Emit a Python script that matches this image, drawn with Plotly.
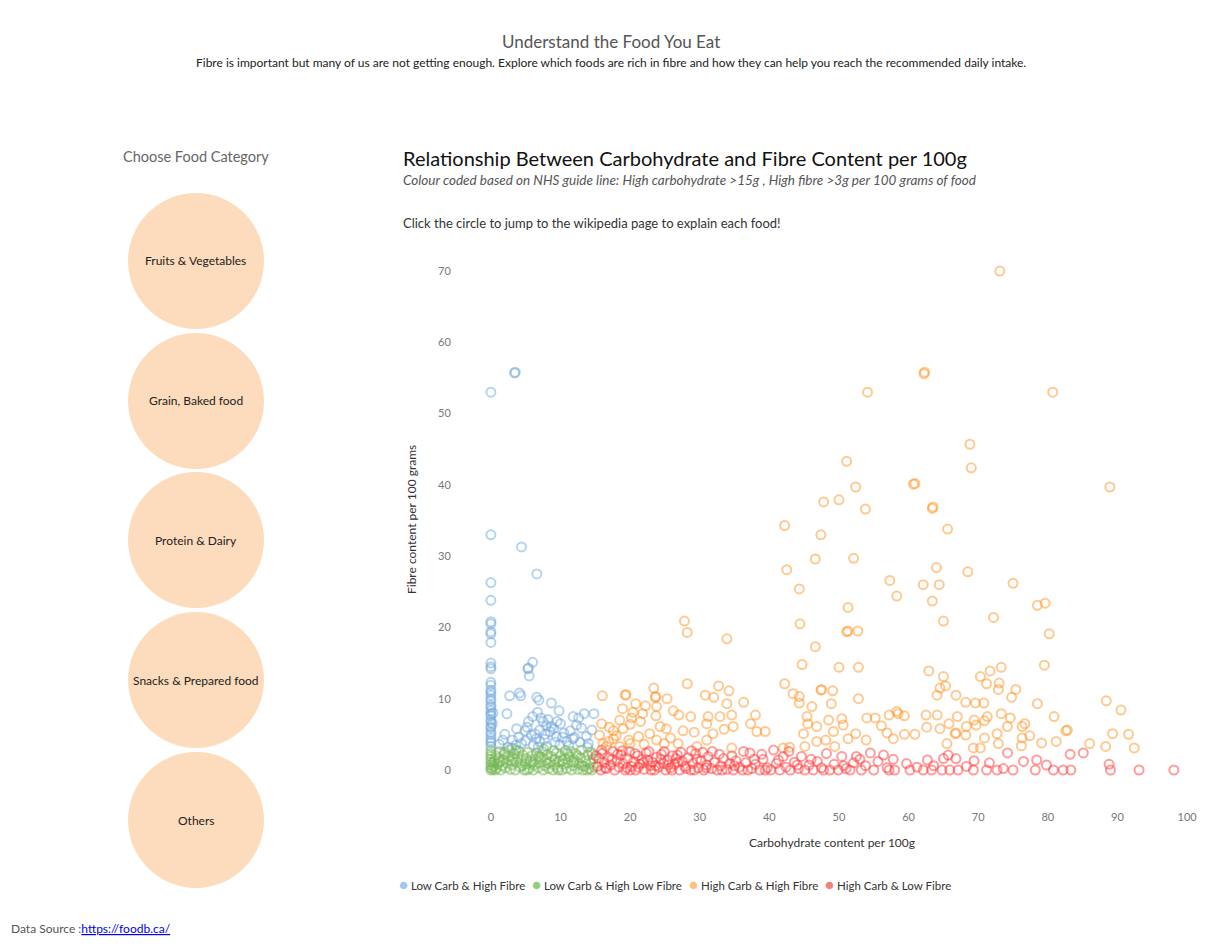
import plotly.graph_objects as go

# Canvas size in pixels
W, H = 1230, 947
OFF = 8  # the page body has an 8px margin

# Data: (carbohydrate g, fibre g) per 100 g
low_carb_high_fibre = [
    (0.0, 53.0), (3.4, 55.7), (3.5, 55.8), (0.0, 33.0), (4.4, 31.3), (6.6, 27.5),
    (0.0, 26.3), (0.0, 23.8), (0.0, 20.8), (0.0, 20.5), (0.0, 19.4), (0.0, 19.1),
    (0.0, 17.9), (0.0, 15.0), (0.0, 14.5), (0.0, 14.2), (6.0, 15.1), (5.3, 14.2),
    (5.5, 13.2), (5.4, 14.3), (0.0, 12.3), (0.0, 11.9), (0.0, 11.2), (0.0, 10.9),
    (0.0, 10.5), (0.0, 10.0), (0.0, 9.7), (0.0, 9.1), (0.0, 8.8), (0.0, 8.3),
    (0.0, 7.9), (0.0, 7.6), (0.0, 7.0), (0.0, 6.7), (0.0, 6.1), (0.0, 5.9),
    (0.0, 5.3), (0.0, 5.0), (0.0, 4.5), (0.0, 4.1), (0.0, 3.8), (0.0, 3.3),
    (0.3, 8.0), (0.2, 6.5), (2.7, 10.4), (4.1, 10.8), (4.3, 10.4), (6.6, 10.2),
    (6.9, 9.8), (8.7, 9.4), (2.3, 7.9), (3.7, 5.8), (1.7, 4.2), (3.1, 4.2),
    (5.4, 6.8), (6.0, 7.5), (6.7, 8.1), (7.5, 6.8), (8.7, 6.1), (10.0, 6.5),
    (11.8, 7.5), (13.4, 7.9), (14.8, 7.9), (12.3, 6.3), (14.5, 5.6), (13.7, 4.7),
    (11.8, 4.4), (14.0, 3.7), (7.0, 5.6), (8.5, 5.4), (9.4, 4.7), (5.8, 4.9),
    (4.4, 3.7), (6.1, 3.5), (8.0, 3.3), (9.9, 3.5), (10.9, 4.0), (7.0, 4.0),
    (12.6, 7.3), (13.0, 5.9), (10.5, 5.2), (12.0, 4.6), (9.0, 5.8), (7.8, 5.0),
    (6.5, 4.4), (5.0, 4.1), (3.6, 3.5), (2.5, 3.2), (4.9, 5.5), (8.2, 7.1),
    (9.5, 6.8), (11.2, 3.4), (12.8, 3.9), (13.9, 3.2), (1.2, 3.6), (2.0, 5.0),
    (5.2, 6.0), (6.3, 5.1), (7.2, 7.3), (8.0, 6.2), (9.2, 3.9), (10.3, 4.6),
    (11.4, 5.5), (6.8, 3.2), (4.0, 4.6), (3.0, 3.1), (7.7, 4.3), (9.8, 8.3),
]

low_carb_low_fibre = [
    (0.0, 0.0), (0.0, 0.3), (0.0, 0.7), (0.0, 1.1), (0.0, 1.5), (0.0, 1.9),
    (0.0, 2.3), (0.0, 2.7), (0.2, 0.1), (0.4, 0.5), (0.5, 1.3), (0.7, 2.0),
    (0.8, 0.2), (1.0, 0.9), (1.1, 1.7), (1.2, 2.6), (1.4, 0.0), (1.6, 0.6),
    (1.8, 1.4), (1.9, 2.2), (2.1, 0.3), (2.3, 1.0), (2.5, 1.9), (2.6, 2.8),
    (2.8, 0.1), (3.0, 0.7), (3.2, 1.5), (3.3, 2.3), (3.5, 0.0), (3.7, 1.1),
    (3.9, 1.9), (4.0, 2.7), (4.2, 0.4), (4.4, 1.3), (4.6, 2.1), (4.8, 0.0),
    (5.0, 0.8), (5.1, 1.6), (5.3, 2.5), (5.5, 0.2), (5.7, 1.2), (5.9, 2.0),
    (6.1, 0.0), (6.2, 0.7), (6.4, 1.5), (6.6, 2.4), (6.8, 0.3), (7.0, 1.0),
    (7.2, 1.8), (7.4, 2.6), (7.5, 0.0), (7.7, 0.6), (7.9, 1.4), (8.1, 2.2),
    (8.3, 0.2), (8.5, 1.1), (8.7, 1.9), (8.9, 0.0), (9.1, 0.7), (9.2, 1.5),
    (9.4, 2.4), (9.6, 0.3), (9.8, 1.2), (10.0, 2.0), (10.2, 0.0), (10.4, 0.8),
    (10.6, 1.6), (10.7, 2.7), (10.9, 0.2), (11.1, 1.0), (11.3, 1.9), (11.6, 0.0),
    (11.8, 0.6), (12.0, 1.4), (12.2, 2.3), (12.5, 0.1), (12.7, 0.9), (12.9, 1.7),
    (13.2, 0.0), (13.4, 0.5), (13.6, 1.3), (13.9, 2.1), (14.1, 0.2), (14.3, 0.9),
    (14.5, 0.0), (14.7, 1.6), (14.8, 0.4), (11.5, 2.6), (13.0, 2.8), (14.4, 2.5),
    (0.3, 1.0), (0.6, 0.0), (1.3, 1.2), (2.0, 2.5), (2.9, 1.3), (3.6, 2.8),
    (4.5, 0.6), (5.2, 0.0), (6.0, 1.0), (6.9, 1.9), (7.6, 2.9), (8.2, 0.9),
    (9.0, 2.7), (9.7, 0.0), (10.3, 1.3), (11.0, 2.4), (11.9, 1.1), (12.4, 2.0),
    (13.1, 0.6), (13.8, 0.0), (14.6, 2.2),
]

high_carb_high_fibre = [
    (73.1, 70.0), (62.2, 55.6), (62.3, 55.8), (54.1, 53.0), (80.7, 53.0), (68.8, 45.7),
    (51.1, 43.3), (69.0, 42.4), (52.4, 39.7), (60.7, 40.1), (60.9, 40.2), (88.9, 39.7),
    (47.8, 37.6), (50.0, 37.9), (53.8, 36.6), (63.4, 36.7), (63.5, 36.9), (42.2, 34.3),
    (47.4, 33.0), (65.6, 33.8), (46.6, 29.6), (52.1, 29.7), (42.5, 28.1), (64.0, 28.4),
    (68.5, 27.8), (44.3, 25.4), (57.3, 26.6), (58.3, 24.4), (51.3, 22.8), (44.4, 20.5),
    (51.1, 19.4), (51.3, 19.5), (52.7, 19.5), (27.8, 20.9), (28.2, 19.3), (33.9, 18.4),
    (46.6, 17.3), (44.7, 14.8), (50.0, 14.4), (52.8, 14.4), (28.2, 12.1), (42.2, 12.1),
    (16.0, 10.4), (19.3, 10.5), (19.4, 10.6), (23.4, 11.5), (23.6, 10.2), (23.7, 10.3),
    (25.3, 10.0), (30.8, 10.5), (32.7, 11.8), (34.2, 11.1), (32.0, 10.2), (33.9, 9.3),
    (36.3, 9.5), (43.4, 10.7), (44.3, 10.3), (44.3, 9.4), (47.4, 11.2), (47.5, 11.3),
    (49.1, 11.1), (48.9, 9.3), (52.8, 10.0), (46.1, 8.9), (20.8, 9.3), (22.2, 9.0),
    (23.8, 8.9), (23.7, 7.6), (20.4, 8.1), (20.2, 7.3), (18.5, 7.0), (15.9, 6.5),
    (17.6, 5.5), (20.0, 6.4), (22.8, 5.1), (24.3, 6.1), (25.2, 5.8), (27.0, 7.7),
    (28.7, 7.5), (31.2, 7.5), (32.9, 7.5), (34.6, 7.7), (38.0, 7.7), (37.3, 6.5),
    (34.8, 6.1), (33.5, 5.7), (31.0, 6.5), (27.6, 5.5), (29.2, 5.3), (31.9, 5.1),
    (38.2, 5.4), (39.4, 5.4), (26.9, 3.7), (29.6, 3.3), (31.0, 4.2), (34.6, 3.1),
    (42.0, 3.1), (42.9, 3.2), (45.4, 7.5), (45.5, 6.5), (44.9, 5.1), (46.8, 6.1),
    (48.5, 7.0), (50.4, 7.2), (50.6, 6.3), (49.2, 5.4), (48.1, 4.2), (46.8, 4.0),
    (45.1, 3.3), (49.4, 3.3), (51.3, 4.4), (52.4, 5.1), (53.9, 4.2), (54.0, 7.3),
    (55.2, 7.3), (56.1, 6.2), (57.2, 7.7), (56.9, 5.2), (57.8, 4.4), (58.3, 8.2),
    (23.8, 4.2), (17.6, 4.4), (16.1, 3.7), (20.0, 3.7), (21.2, 4.7), (18.5, 3.3),
    (16.6, 3.3), (24.9, 3.7), (17.0, 6.0), (18.0, 4.8), (19.0, 5.8), (21.5, 6.8),
    (22.0, 3.6), (19.8, 4.2), (16.9, 4.0), (18.9, 8.6), (21.8, 7.9), (15.6, 4.9),
    (25.8, 4.5), (26.2, 8.3), (62.1, 26.0), (64.4, 26.0), (75.0, 26.2), (63.4, 23.7),
    (78.5, 23.1), (79.6, 23.4), (65.0, 20.9), (72.2, 21.4), (80.2, 19.1), (62.9, 13.9),
    (65.0, 13.1), (71.7, 13.9), (73.3, 14.4), (70.3, 13.1), (71.2, 12.1), (73.0, 12.2),
    (72.9, 11.3), (75.4, 11.3), (74.8, 10.2), (79.5, 14.7), (65.3, 11.8), (64.5, 11.5),
    (64.1, 10.5), (66.8, 10.5), (68.2, 9.5), (69.6, 9.4), (70.8, 9.4), (78.5, 9.3),
    (88.4, 9.7), (90.5, 8.4), (62.5, 7.7), (64.1, 7.7), (67.0, 7.5), (69.4, 7.0),
    (71.3, 7.5), (73.3, 7.9), (74.6, 7.3), (80.9, 7.5), (58.5, 7.9), (59.4, 7.6),
    (62.6, 6.0), (64.5, 5.8), (65.8, 6.5), (68.3, 6.1), (69.7, 6.3), (70.9, 6.9),
    (74.2, 6.1), (76.7, 6.5), (76.3, 6.1), (59.4, 5.0), (60.9, 5.0), (66.7, 5.1),
    (66.8, 5.2), (68.2, 4.9), (70.9, 4.5), (72.7, 5.1), (76.3, 4.5), (77.4, 4.8),
    (82.6, 5.5), (82.8, 5.6), (89.3, 5.1), (91.6, 5.0), (65.5, 3.7), (69.3, 3.1),
    (70.3, 3.1), (72.9, 3.7), (76.2, 3.4), (79.1, 3.8), (81.2, 4.0), (86.0, 3.7),
    (88.3, 3.3), (92.4, 3.1),
]

high_carb_low_fibre = [
    (15.3, 0.5), (15.5, 1.6), (15.8, 0.0), (16.0, 2.3), (16.3, 1.0), (16.6, 0.2),
    (16.9, 1.8), (17.2, 0.7), (17.5, 2.6), (17.8, 0.0), (18.1, 1.3), (18.4, 0.4),
    (18.7, 2.1), (19.0, 0.9), (19.3, 0.0), (19.6, 1.6), (19.9, 2.6), (20.2, 0.5),
    (20.5, 1.2), (20.8, 0.0), (21.1, 2.0), (21.4, 0.8), (21.7, 1.5), (22.0, 0.1),
    (22.3, 2.4), (22.7, 2.6), (22.9, 0.6), (23.2, 1.1), (23.5, 0.0), (23.8, 1.8),
    (24.1, 0.4), (24.5, 2.2), (24.8, 0.9), (25.1, 0.0), (25.4, 1.4), (25.8, 0.3),
    (26.1, 2.0), (26.4, 0.8), (26.8, 2.1), (27.1, 0.0), (27.5, 1.2), (27.9, 0.5),
    (28.3, 1.7), (28.7, 0.0), (29.0, 0.9), (29.4, 2.3), (29.8, 0.3), (30.2, 1.3),
    (30.6, 0.0), (31.0, 0.7), (31.2, 1.9), (31.7, 0.2), (32.1, 1.1), (32.5, 0.0),
    (33.0, 0.6), (33.4, 1.6), (33.9, 0.1), (34.3, 0.9), (34.8, 0.0), (35.2, 1.3),
    (35.7, 0.4), (36.1, 0.0), (36.6, 1.0), (37.2, 2.4), (37.5, 0.2), (38.0, 0.8),
    (38.6, 0.0), (39.1, 1.5), (39.7, 0.3), (40.2, 0.0), (40.6, 2.8), (41.0, 0.9),
    (41.5, 0.0), (42.0, 1.9), (42.4, 0.4), (43.0, 0.0), (43.6, 1.1), (44.2, 0.2),
    (44.6, 1.9), (45.1, 0.0), (45.7, 0.7), (46.3, 0.0), (46.9, 1.2), (47.5, 0.3),
    (48.2, 2.3), (48.7, 0.0), (49.3, 0.8), (49.9, 0.0), (50.4, 1.9), (51.0, 0.2),
    (51.6, 0.0), (52.1, 1.0), (52.5, 1.9), (53.2, 0.0), (53.8, 0.6), (54.5, 2.4),
    (55.0, 0.0), (55.6, 1.2), (56.4, 2.1), (56.9, 0.3), (57.8, 1.5), (58.0, 0.0),
    (59.7, 0.9), (60.2, 0.0), (61.2, 0.4), (62.1, 0.0), (62.7, 1.4), (63.3, 0.0),
    (63.6, 0.6), (64.8, 0.0), (65.0, 1.6), (65.7, 2.1), (65.9, 0.0), (66.8, 1.6),
    (67.1, 0.0), (68.3, 0.5), (69.3, 0.0), (69.4, 1.3), (71.2, 0.0), (71.6, 1.0),
    (72.7, 0.0), (73.6, 0.2), (74.2, 2.4), (75.0, 0.0), (76.5, 1.2), (78.2, 0.0),
    (78.4, 1.4), (79.8, 0.7), (80.8, 0.0), (82.2, 0.0), (83.2, 2.2), (83.3, 0.0),
    (85.1, 2.4), (88.8, 0.8), (89.0, 0.0), (93.1, 0.0), (98.1, 0.0), (18.9, 2.7),
    (21.9, 1.0), (24.4, 1.5), (26.9, 1.1), (28.8, 2.7), (30.4, 2.5), (32.8, 2.2),
    (34.6, 2.0), (36.3, 2.6), (38.9, 2.2), (16.4, 0.3), (20.0, 0.0), (23.0, 0.0),
    (26.0, 0.0), (29.2, 0.0), (15.1, 2.0), (15.9, 2.8), (17.4, 1.5), (18.2, 2.2),
    (19.5, 0.3), (20.7, 2.3), (21.2, 0.4), (22.5, 1.4), (23.7, 0.6), (24.9, 2.6),
    (25.5, 0.7), (26.6, 1.6), (27.3, 2.5), (28.0, 0.2), (29.6, 1.5), (30.9, 0.3),
    (31.8, 2.6), (33.2, 0.0), (35.0, 0.6), (36.9, 0.0), (37.8, 1.5), (39.4, 0.0),
    (41.3, 1.4), (42.8, 2.6), (44.0, 0.7), (46.0, 1.5), (47.8, 0.0), (50.7, 0.6),
    (53.0, 1.5), (57.2, 0.0),
]

series_names = ["Low Carb & High Fibre", "Low Carb & High Low Fibre",
                "High Carb & High Fibre", "High Carb & Low Fibre"]
series_data = [low_carb_high_fibre, low_carb_low_fibre,
               high_carb_high_fibre, high_carb_low_fibre]
marker_colours = ["#6fa8dc", "#74b652", "#ff9326", "#ff3c3c"]
legend_colours = ["#a0c8ea", "#8fcf7e", "#ffbf80", "#f48080"]

food_categories = ["Fruits & Vegetables", "Grain, Baked food", "Protein & Dairy",
                   "Snacks & Prepared food", "Others"]

x_ticks = list(range(0, 101, 10))
y_ticks = list(range(0, 71, 10))


def px(x):
    return (x - OFF) / W


def py(y):
    return 1 - (y - OFF) / H


fig = go.Figure()

# draw order: blue, orange, green, red (red/green on top like the reference)
for i in [0, 2, 1, 3]:
    pts = series_data[i]
    fig.add_trace(go.Scatter(
        x=[p[0] for p in pts],
        y=[p[1] for p in pts],
        mode="markers",
        name=series_names[i],
        showlegend=False,
        marker=dict(symbol="circle-open", size=9, color=marker_colours[i],
                    opacity=0.5, line=dict(width=2, color=marker_colours[i])),
        hovertemplate="Carbs: %{x}<br>Fibre: %{y}<extra></extra>",
    ))

font = "Lato, 'Open Sans', sans-serif"

fig.update_layout(
    width=W, height=H,
    margin=dict(l=0, r=0, t=0, b=0),
    paper_bgcolor="white", plot_bgcolor="white",
    font=dict(family=font, size=11, color="#333"),
    showlegend=False,
    xaxis=dict(domain=[px(470), px(1201)], range=[-3, 102], tickvals=x_ticks,
               showgrid=False, zeroline=False, showline=False,
               tickfont=dict(size=11, color="#777"), ticks="outside",
               ticklen=8, tickcolor="white"),
    yaxis=dict(domain=[py(798.5), py(235.4)], range=[-4, 75], tickvals=y_ticks,
               showgrid=False, zeroline=False, showline=False,
               tickfont=dict(size=11, color="#777"), ticks="outside",
               ticklen=16, tickcolor="white"),
)

ann = []


def text(x, y, s, size, colour, xanchor="left", angle=0):
    ann.append(dict(x=px(x), y=py(y), xref="paper", yref="paper", text=s,
                    showarrow=False, xanchor=xanchor, yanchor="middle",
                    textangle=angle, font=dict(size=size, color=colour, family=font)))


text(611, 41, "Understand the Food You Eat", 17, "#555", "center")
text(611, 63, "Fibre is important but many of us are not getting enough. Explore which foods are rich in fibre and how they can help you reach the recommended daily intake.", 12, "#222", "center")
text(196, 157, "Choose Food Category", 14.5, "#666", "center")
text(401, 158, "Relationship Between Carbohydrate and Fibre Content per 100g", 20, "#111")
text(401, 180, "<i>Colour coded based on NHS guide line: High carbohydrate >15g , High fibre >3g per 100 grams of food</i>", 13.5, "#555")
text(401, 223, "Click the circle to jump to the wikipedia page to explain each food!", 13, "#333")
text(412, 520, "Fibre content per 100 grams", 12, "#333", "center", -90)
text(832, 842, "Carbohydrate content per 100g", 12, "#333", "center")
text(9, 928, "Data Source :<a href='https://foodb.ca/'><span style='color:#0000ee;text-decoration:underline'>https://foodb.ca/</span></a>", 12, "#555")

# legend row
legend_x = [397, 530, 687, 823]
for name, colour, lx in zip(series_names, legend_colours, legend_x):
    text(lx, 884, f"<span style='color:{colour};font-size:15px'>●</span> {name}", 11.5, "#333")

# category selector circles
shapes = []
centres = [261, 401, 540, 680, 820]
for cat, cy in zip(food_categories, centres):
    shapes.append(dict(type="circle", xref="paper", yref="paper",
                       x0=px(128), x1=px(264), y0=py(cy + 68), y1=py(cy - 68),
                       fillcolor="#fddcbd", line=dict(width=0), layer="below"))
    text(196, cy, cat, 12, "#222", "center")

fig.update_layout(annotations=ann, shapes=shapes)

fig.write_html("out.html")
